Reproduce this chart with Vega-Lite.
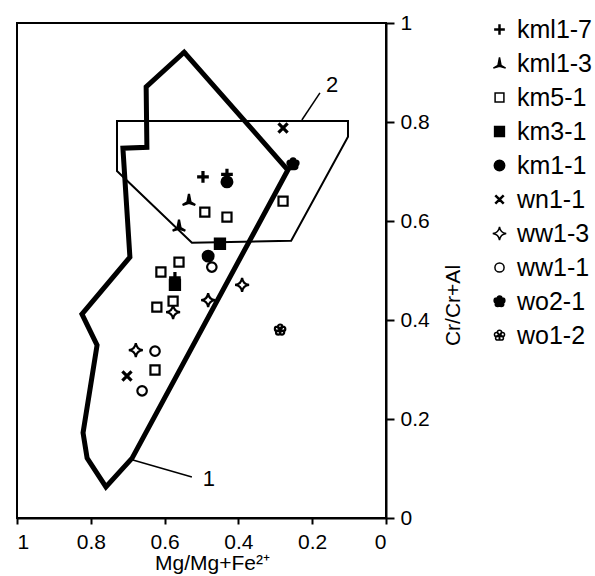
{
  "$schema": "https://vega.github.io/schema/vega-lite/v6.json",
  "width": 369,
  "height": 495,
  "autosize": {"type": "none"},
  "padding": {"left": 17, "top": 23, "right": 209, "bottom": 58},
  "background": "white",
  "config": {
    "view": {"stroke": "black", "strokeWidth": 2},
    "font": "Liberation Sans",
    "axis": {"grid": false, "domainColor": "black", "domainWidth": 2, "tickColor": "black", "tickWidth": 2, "labelColor": "black", "titleColor": "black", "labelFontSize": 21, "titleFontSize": 21, "titleFontWeight": "normal", "labelFont": "Liberation Sans", "titleFont": "Liberation Sans"}
  },
  "datasets": {
    "poly": [
      {"p": "1", "o": 0, "x": 0.547, "y": 0.941},
      {"p": "1", "o": 1, "x": 0.650, "y": 0.871},
      {"p": "1", "o": 2, "x": 0.648, "y": 0.749},
      {"p": "1", "o": 3, "x": 0.713, "y": 0.747},
      {"p": "1", "o": 4, "x": 0.694, "y": 0.527},
      {"p": "1", "o": 5, "x": 0.824, "y": 0.412},
      {"p": "1", "o": 6, "x": 0.783, "y": 0.349},
      {"p": "1", "o": 7, "x": 0.821, "y": 0.172},
      {"p": "1", "o": 8, "x": 0.810, "y": 0.121},
      {"p": "1", "o": 9, "x": 0.759, "y": 0.063},
      {"p": "1", "o": 10, "x": 0.688, "y": 0.121},
      {"p": "1", "o": 11, "x": 0.266, "y": 0.703},
      {"p": "1", "o": 12, "x": 0.547, "y": 0.941},
      {"p": "2", "o": 0, "x": 0.729, "y": 0.802},
      {"p": "2", "o": 1, "x": 0.103, "y": 0.802},
      {"p": "2", "o": 2, "x": 0.103, "y": 0.770},
      {"p": "2", "o": 3, "x": 0.257, "y": 0.560},
      {"p": "2", "o": 4, "x": 0.526, "y": 0.556},
      {"p": "2", "o": 5, "x": 0.729, "y": 0.701},
      {"p": "2", "o": 6, "x": 0.729, "y": 0.802}
    ],
    "labels": [
      {"t": "1", "x": 0.480, "y": 0.079, "x1": 0.686, "y1": 0.117, "x2": 0.526, "y2": 0.083},
      {"t": "2", "x": 0.146, "y": 0.875, "x1": 0.179, "y1": 0.859, "x2": 0.228, "y2": 0.804}
    ],
    "pts": [
      {"s": "kml1-3", "x": 0.534, "y": 0.642},
      {"s": "kml1-3", "x": 0.561, "y": 0.590},
      {"s": "km5-1", "x": 0.491, "y": 0.618},
      {"s": "km5-1", "x": 0.431, "y": 0.608},
      {"s": "km5-1", "x": 0.279, "y": 0.640},
      {"s": "km5-1", "x": 0.561, "y": 0.517},
      {"s": "km5-1", "x": 0.610, "y": 0.497},
      {"s": "km5-1", "x": 0.577, "y": 0.438},
      {"s": "km5-1", "x": 0.621, "y": 0.426},
      {"s": "km5-1", "x": 0.626, "y": 0.299},
      {"s": "km3-1", "x": 0.450, "y": 0.554},
      {"s": "km3-1", "x": 0.572, "y": 0.471},
      {"s": "km1-1", "x": 0.431, "y": 0.679},
      {"s": "km1-1", "x": 0.482, "y": 0.529},
      {"s": "wn1-1", "x": 0.279, "y": 0.788},
      {"s": "wn1-1", "x": 0.702, "y": 0.287},
      {"s": "ww1-3", "x": 0.390, "y": 0.471},
      {"s": "ww1-3", "x": 0.482, "y": 0.440},
      {"s": "ww1-3", "x": 0.577, "y": 0.416},
      {"s": "ww1-3", "x": 0.678, "y": 0.339},
      {"s": "ww1-1", "x": 0.472, "y": 0.507},
      {"s": "ww1-1", "x": 0.626, "y": 0.337},
      {"s": "ww1-1", "x": 0.661, "y": 0.257},
      {"s": "wo2-1", "x": 0.252, "y": 0.715},
      {"s": "wo1-2", "x": 0.287, "y": 0.380},
      {"s": "kml1-7", "x": 0.496, "y": 0.689},
      {"s": "kml1-7", "x": 0.431, "y": 0.694},
      {"s": "kml1-7", "x": 0.572, "y": 0.485}
    ]
  },
  "layer": [
    {
      "data": {"name": "poly"},
      "transform": [{"filter": "datum.p == '2'"}],
      "mark": {"type": "line", "color": "black", "strokeWidth": 2, "strokeJoin": "miter", "strokeCap": "square"},
      "encoding": {
        "x": {"field": "x", "type": "quantitative", "scale": {"domain": [0, 1], "reverse": true},
          "axis": {"values": [0, 0.2, 0.4, 0.6, 0.8, 1], "format": "~g", "tickSize": 6, "labelPadding": 7, "title": "Mg/Mg+Fe²⁺", "titlePadding": 0, "titleX": 195}},
        "y": {"field": "y", "type": "quantitative", "scale": {"domain": [0, 1]},
          "axis": {"orient": "right", "values": [0, 0.2, 0.4, 0.6, 0.8, 1], "format": "~g", "tickSize": 8, "labelPadding": 6, "title": "Cr/Cr+Al", "titleAngle": 270, "titleX": 67, "titleY": 282, "titleAlign": "center", "titleBaseline": "middle"}},
        "order": {"field": "o", "type": "quantitative"}
      }
    },
    {
      "data": {"name": "poly"},
      "transform": [{"filter": "datum.p == '1'"}],
      "mark": {"type": "line", "color": "black", "strokeWidth": 5, "strokeJoin": "miter", "strokeCap": "square"},
      "encoding": {
        "x": {"field": "x", "type": "quantitative"},
        "y": {"field": "y", "type": "quantitative"},
        "order": {"field": "o", "type": "quantitative"}
      }
    },
    {
      "data": {"name": "labels"},
      "mark": {"type": "rule", "color": "black", "strokeWidth": 1.5},
      "encoding": {
        "x": {"field": "x1", "type": "quantitative"},
        "y": {"field": "y1", "type": "quantitative"},
        "x2": {"field": "x2"},
        "y2": {"field": "y2"}
      }
    },
    {
      "data": {"name": "labels"},
      "mark": {"type": "text", "fontSize": 22, "font": "Liberation Sans", "color": "black", "align": "center", "baseline": "middle"},
      "encoding": {
        "x": {"field": "x", "type": "quantitative"},
        "y": {"field": "y", "type": "quantitative"},
        "text": {"field": "t"}
      }
    },
    {
      "data": {"name": "pts"},
      "mark": {"type": "point", "filled": true, "opacity": 1, "stroke": "black", "strokeWidth": 2.2, "size": 160},
      "encoding": {
        "x": {"field": "x", "type": "quantitative"},
        "y": {"field": "y", "type": "quantitative"},
        "shape": {"field": "s", "type": "nominal",
          "scale": {
            "domain": ["kml1-7", "kml1-3", "km5-1", "km3-1", "km1-1", "wn1-1", "ww1-3", "ww1-1", "wo2-1", "wo1-2"],
            "range": [
              "M-0.75,-0.08H-0.08V-0.75H0.08V-0.08H0.75V0.08H0.08V0.75H-0.08V0.08H-0.75Z",
              "M0,-1L0.25,0.3L1,0.75L0,0.45L-1,0.75L-0.25,0.3Z",
              "M-0.72,-0.72H0.72V0.72H-0.72Z",
              "M-0.8,-0.8H0.8V0.8H-0.8Z",
              "M-0.85,0A0.85,0.85 0 1,0 0.85,0A0.85,0.85 0 1,0 -0.85,0Z",
              "M-0.545,-0.658L0,-0.113L0.545,-0.658L0.658,-0.545L0.113,0L0.658,0.545L0.545,0.658L0,0.113L-0.545,0.658L-0.658,0.545L-0.113,0L-0.658,-0.545Z",
              "M0,-1.1Q0.12,-0.12 1.1,0Q0.12,0.12 0,1.1Q-0.12,0.12 -1.1,0Q-0.12,-0.12 0,-1.1Z",
              "M-0.75,0A0.75,0.75 0 1,0 0.75,0A0.75,0.75 0 1,0 -0.75,0Z",
              "M-0.4,-0.5a0.4,0.4 0 1,0 0.8,0a0.4,0.4 0 1,0 -0.8,0ZM0.075,-0.155a0.4,0.4 0 1,0 0.8,0a0.4,0.4 0 1,0 -0.8,0ZM-0.106,0.405a0.4,0.4 0 1,0 0.8,0a0.4,0.4 0 1,0 -0.8,0ZM-0.694,0.405a0.4,0.4 0 1,0 0.8,0a0.4,0.4 0 1,0 -0.8,0ZM-0.875,-0.155a0.4,0.4 0 1,0 0.8,0a0.4,0.4 0 1,0 -0.8,0ZM-0.45,0a0.45,0.45 0 1,0 0.9,0a0.45,0.45 0 1,0 -0.9,0Z",
              "M-0.35,-0.5a0.35,0.35 0 1,0 0.7,0a0.35,0.35 0 1,0 -0.7,0ZM0.125,-0.155a0.35,0.35 0 1,0 0.7,0a0.35,0.35 0 1,0 -0.7,0ZM-0.056,0.405a0.35,0.35 0 1,0 0.7,0a0.35,0.35 0 1,0 -0.7,0ZM-0.644,0.405a0.35,0.35 0 1,0 0.7,0a0.35,0.35 0 1,0 -0.7,0ZM-0.825,-0.155a0.35,0.35 0 1,0 0.7,0a0.35,0.35 0 1,0 -0.7,0Z"
            ]
          },
          "legend": {"orient": "none", "legendX": 470, "legendY": -6, "title": null, "labelFontSize": 25, "labelFont": "Liberation Sans", "labelColor": "black", "symbolSize": 150, "rowPadding": 8, "labelOffset": 5, "padding": 0,
            "encode": {"symbols": {"update": {"stroke": {"value": "black"}, "strokeWidth": {"value": 2.2}, "opacity": {"value": 1}}}}}
        },
        "fill": {"field": "s", "type": "nominal",
          "scale": {
            "domain": ["kml1-7", "kml1-3", "km5-1", "km3-1", "km1-1", "wn1-1", "ww1-3", "ww1-1", "wo2-1", "wo1-2"],
            "range": ["black", "black", "white", "black", "black", "black", "white", "white", "black", "white"]
          },
          "legend": {"orient": "none", "legendX": 470, "legendY": -6, "title": null, "labelFontSize": 25, "labelFont": "Liberation Sans", "labelColor": "black", "symbolSize": 150, "rowPadding": 8, "labelOffset": 5, "padding": 0,
            "encode": {"symbols": {"update": {"stroke": {"value": "black"}, "strokeWidth": {"value": 2.2}, "opacity": {"value": 1}}}}}
        }
      }
    }
  ]
}
